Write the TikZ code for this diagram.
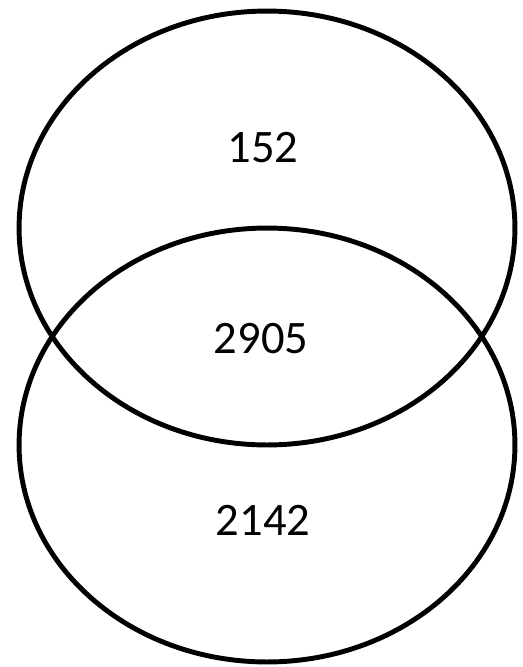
\documentclass[tikz,border=0pt]{standalone}
\usepackage{fontspec}
\setmainfont{Carlito}
\usetikzlibrary{shapes.geometric}

\begin{document}
\begin{tikzpicture}[
  x=0.02cm, y=-0.02cm,
  set/.style={ellipse, draw=black, line width=2.8pt,
              minimum width=9.92cm, minimum height=8.68cm, inner sep=0pt},
  cnt/.style={font=\fontsize{26.5pt}{30pt}\selectfont, text=black},
]
\useasboundingbox (0,0) rectangle (522,667);

% ---------------- the two sets ----------------
\node[set] (upper) at (267,228) {};
\node[set] (lower) at (267,445) {};

% ---------------- counts ----------------
\node[cnt] (onlyup)  at (263,148) {152};
\node[cnt] (both)    at (261,339) {2905};
\node[cnt] (onlylow) at (263,520) {2142};

\end{tikzpicture}
\end{document}
